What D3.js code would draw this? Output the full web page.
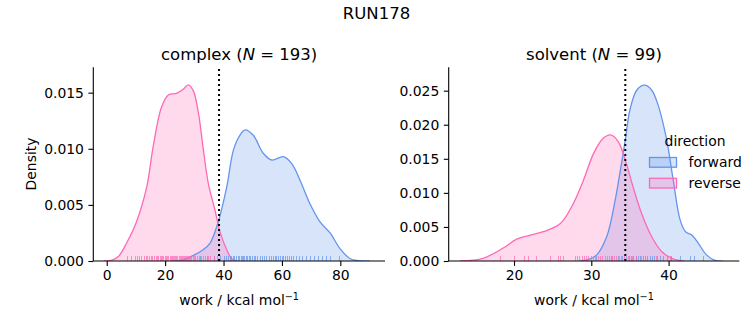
<!DOCTYPE html>
<html>
<head>
<meta charset="utf-8">
<script src="https://cdn.jsdelivr.net/npm/d3@7"></script>
<style>
  body { margin: 0; background: #fff; }
  svg { display: block; }
</style>
</head>
<body>
<div id="chart"></div>
<script>
// Density curves: [work, density]
const complexForwardKde = [
  [22.0, 0], [26.0, 0.0001], [29.7, 0.0005], [33.0, 0.0010], [35.4, 0.0016], [38.2, 0.0035], [41.1, 0.0066],
  [43.4, 0.0099], [45.6, 0.0112], [47.4, 0.01168], [50.2, 0.0112], [53.6, 0.0096],
  [56.5, 0.0090], [60.5, 0.0093], [63.3, 0.0087], [66.2, 0.0072], [69.6, 0.0051],
  [73.0, 0.0035], [76.5, 0.0025], [79.9, 0.0011], [83.4, 0.0002], [86.0, 0.00003], [90.0, 0]
];
const complexReverseKde = [
  [-1.0, 0], [2.0, 0.0001], [4.0, 0.0004], [6.8, 0.0016], [10.2, 0.0035], [13.7, 0.0066],
  [15.9, 0.0102], [18.8, 0.01375], [21.1, 0.0148], [23.9, 0.01494], [26.2, 0.0153],
  [27.9, 0.0157], [29.6, 0.0152], [31.4, 0.0132], [33.1, 0.0099], [34.8, 0.0069],
  [37.1, 0.0045], [38.8, 0.0026], [41.1, 0.0010], [42.8, 0.0002], [44.5, 0]
];
const solventForwardKde = [
  [28.5, 0], [29.6, 0.0002], [30.7, 0.0009], [32.0, 0.0036], [33.1, 0.0090], [33.7, 0.0129],
  [34.4, 0.0178], [35.0, 0.0222], [35.9, 0.0251], [36.9, 0.0258], [37.8, 0.0251],
  [38.7, 0.0227], [39.75, 0.0178], [40.6, 0.0119], [41.5, 0.0060], [42.2, 0.0043],
  [43.0, 0.0038], [43.85, 0.0026], [44.9, 0.0009], [46.0, 0.0001], [47.0, 0]
];
const solventReverseKde = [
  [13.0, 0], [16.0, 0.0004], [18.6, 0.0019], [20.35, 0.0032], [22.1, 0.0038],
  [23.8, 0.0043], [26.0, 0.0055], [27.7, 0.0085], [29.0, 0.0119], [30.3, 0.0158],
  [31.55, 0.0180], [32.5, 0.0185], [33.5, 0.0175], [34.4, 0.0148], [35.4, 0.0109],
  [36.5, 0.0070], [37.8, 0.0036], [39.1, 0.0014], [40.6, 0.0003], [42.0, 0]
];

// Rug samples (estimated)
const complexForwardRug = [32.0, 34.5, 36.8, 38.9, 40.2, 41.0, 41.7, 42.3, 42.9, 43.4, 43.9, 44.5, 45.0,
  45.5, 46.0, 46.4, 46.9, 47.3, 47.8, 48.3, 48.8, 49.3, 49.9, 50.5, 51.1, 51.8, 52.5, 53.3, 54.0,
  54.8, 55.6, 56.3, 57.0, 57.7, 58.3, 58.9, 59.5, 60.1, 60.7, 61.3, 61.9, 62.6, 63.3, 64.1, 65.0,
  66.0, 67.2, 68.5, 69.8, 71.2, 72.6, 74.0, 75.3, 76.5, 79.6];
const complexReverseRug = [7.2, 8.5, 9.8, 10.5, 11.3, 12.0, 12.8, 13.5, 14.1, 14.6, 15.2, 15.8, 16.3,
  16.9, 17.4, 17.8, 18.3, 18.7, 19.2, 19.6, 20.0, 20.4, 20.9, 21.3, 21.7, 22.1, 22.5, 22.9, 23.2,
  23.6, 24.0, 24.4, 24.8, 25.1, 25.5, 25.9, 26.3, 26.6, 27.0, 27.4, 27.7, 28.1, 28.5, 28.8, 29.2,
  29.6, 30.0, 30.5, 31.0, 31.6, 32.3, 33.0, 33.8, 34.7, 35.6, 36.8, 38.1];
const solventForwardRug = [30.7, 32.6, 33.5, 34.1, 34.5, 34.9, 35.2, 35.5, 35.8, 36.1, 36.4, 36.7, 37.0,
  37.3, 37.6, 37.9, 38.2, 38.6, 39.0, 39.4, 39.8, 40.4, 41.5, 42.8, 43.4, 44.5];
const solventReverseRug = [18.3, 20.1, 21.4, 21.9, 22.9, 24.7, 25.7, 26.0, 26.4, 27.9, 28.2, 28.5, 28.8,
  29.1, 29.4, 29.7, 30.0, 30.3, 30.6, 30.9, 31.2, 31.5, 31.8, 32.1, 32.4, 32.7, 33.0, 33.3, 33.6,
  33.9, 34.3, 34.8, 35.3, 35.9, 36.5, 38.5, 40.2];

// Dotted reference lines
const complexMark = 38.46;
const solventMark = 34.4;

// Tick labels
const complexXTicks = [0, 20, 40, 60, 80];
const complexYTicks = [0, 0.005, 0.010, 0.015];
const solventXTicks = [20, 30, 40];
const solventYTicks = [0, 0.005, 0.010, 0.015, 0.020, 0.025];

const directions = ["forward", "reverse"];
const colors = { forward: "#6495ED", reverse: "#FF69B4" };

const W = 753, H = 325;
const font = "DejaVu Sans";

const svg = d3.select("#chart")
  .append("svg")
    .attr("width", W)
    .attr("height", H)
    .style("font-family", font);

// Suptitle
svg.append("text")
    .attr("x", 376.5)
    .attr("y", 19)
    .attr("text-anchor", "middle")
    .style("font-size", "16.5px")
    .text("RUN178");

function panel(opts) {
  const g = svg.append("g");
  const x = d3.scaleLinear().domain(opts.xDomain).range([opts.left, opts.right]);
  const y = d3.scaleLinear().domain(opts.yDomain).range([opts.bottom, opts.top]);

  const curve = d3.curveCatmullRom.alpha(0.5);
  const area = d3.area()
    .x(d => x(d[0]))
    .y0(y(0))
    .y1(d => y(d[1]))
    .curve(curve);
  const line = d3.line()
    .x(d => x(d[0]))
    .y(d => y(d[1]))
    .curve(curve);

  // Clip so the smoothed tails never dip under the baseline
  const clipId = "clip-" + opts.name;
  g.append("clipPath").attr("id", clipId)
    .append("rect")
      .attr("x", opts.left).attr("y", opts.top - 10)
      .attr("width", opts.right - opts.left)
      .attr("height", opts.bottom - opts.top + 10);
  const plot = g.append("g").attr("clip-path", `url(#${clipId})`);

  // Fills then outlines
  directions.forEach(dir => {
    plot.append("path")
      .attr("d", area(opts.kde[dir]))
      .attr("fill", colors[dir])
      .attr("fill-opacity", 0.25);
  });
  directions.forEach(dir => {
    plot.append("path")
      .attr("d", line(opts.kde[dir]))
      .attr("fill", "none")
      .attr("stroke", colors[dir])
      .attr("stroke-width", 1.3);
  });

  // Rug
  const rugH = (opts.bottom - opts.top) * 0.025;
  directions.forEach(dir => {
    plot.selectAll(null)
      .data(opts.rug[dir])
      .enter()
      .append("line")
        .attr("x1", d => x(d))
        .attr("x2", d => x(d))
        .attr("y1", opts.bottom)
        .attr("y2", opts.bottom - rugH)
        .attr("stroke", colors[dir])
        .attr("stroke-opacity", 0.7)
        .attr("stroke-width", 1)
        .attr("shape-rendering", "crispEdges");
  });

  // Dotted line
  g.append("line")
    .attr("x1", x(opts.mark))
    .attr("x2", x(opts.mark))
    .attr("y1", opts.bottom)
    .attr("y2", opts.top)
    .attr("stroke", "#000")
    .attr("stroke-width", 2)
    .attr("stroke-dasharray", "2,3");

  // Axes
  const xAxis = g.append("g")
    .attr("transform", `translate(0,${opts.bottom})`)
    .call(d3.axisBottom(x).tickValues(opts.xTicks).tickSize(4.9).tickPadding(4.5).tickFormat(d3.format("d")));
  const yAxis = g.append("g")
    .attr("transform", `translate(${opts.left},0)`)
    .call(d3.axisLeft(y).tickValues(opts.yTicks).tickSize(4.9).tickPadding(4.5).tickFormat(d3.format(".3f")));
  [xAxis, yAxis].forEach(a => {
    a.select(".domain").attr("stroke-width", 1.1);
    a.selectAll(".tick line").attr("stroke-width", 1.1);
    a.selectAll("text").style("font-size", "13.9px").style("font-family", font).attr("fill", "#000");
  });
  xAxis.select(".domain").attr("d", `M${opts.left},0H${opts.right}`);
  yAxis.select(".domain").attr("d", `M0,${opts.bottom}V${opts.top}`);

  // Title
  const t = g.append("text")
    .attr("x", (opts.left + opts.right) / 2)
    .attr("y", 60)
    .attr("text-anchor", "middle")
    .style("font-size", "16.5px");
  t.append("tspan").text(opts.name + " (");
  t.append("tspan").style("font-style", "italic").text("N");
  t.append("tspan").text(" = " + opts.n + ")");

  // X label
  const xl = g.append("text")
    .attr("x", (opts.left + opts.right) / 2)
    .attr("y", 305)
    .attr("text-anchor", "middle")
    .style("font-size", "13.9px");
  xl.append("tspan").text("work / kcal mol");
  xl.append("tspan").attr("dy", -5).style("font-size", "9.7px").text("\u22121");

  return g;
}

panel({
  name: "complex", n: 193,
  left: 93.3, right: 385, top: 67.3, bottom: 261,
  xDomain: [-4.6, 95.3], yDomain: [0, 0.01726],
  kde: { forward: complexForwardKde, reverse: complexReverseKde },
  rug: { forward: complexForwardRug, reverse: complexReverseRug },
  mark: complexMark, xTicks: complexXTicks, yTicks: complexYTicks
});

panel({
  name: "solvent", n: 99,
  left: 448.7, right: 739.3, top: 67.3, bottom: 261,
  xDomain: [11.55, 49.15], yDomain: [0, 0.02843],
  kde: { forward: solventForwardKde, reverse: solventReverseKde },
  rug: { forward: solventForwardRug, reverse: solventReverseRug },
  mark: solventMark, xTicks: solventXTicks, yTicks: solventYTicks
});

// Y label
svg.append("text")
    .attr("transform", "rotate(-90)")
    .attr("x", -164)
    .attr("y", 36)
    .attr("text-anchor", "middle")
    .style("font-size", "13.9px")
    .text("Density");

// Legend
const legend = svg.append("g");
legend.append("text")
    .attr("x", 695)
    .attr("y", 146)
    .attr("text-anchor", "middle")
    .style("font-size", "13.9px")
    .text("direction");
directions.forEach((dir, i) => {
  const yy = 157.5 + i * 20.8;
  legend.append("rect")
    .attr("x", 649.5)
    .attr("y", yy)
    .attr("width", 27)
    .attr("height", 9.7)
    .attr("fill", colors[dir])
    .attr("fill-opacity", 0.25)
    .attr("stroke", colors[dir])
    .attr("stroke-width", 1.3);
  legend.append("text")
    .attr("x", 688.5)
    .attr("y", yy + 9.5)
    .style("font-size", "13.9px")
    .text(dir);
});
</script>
</body>
</html>
